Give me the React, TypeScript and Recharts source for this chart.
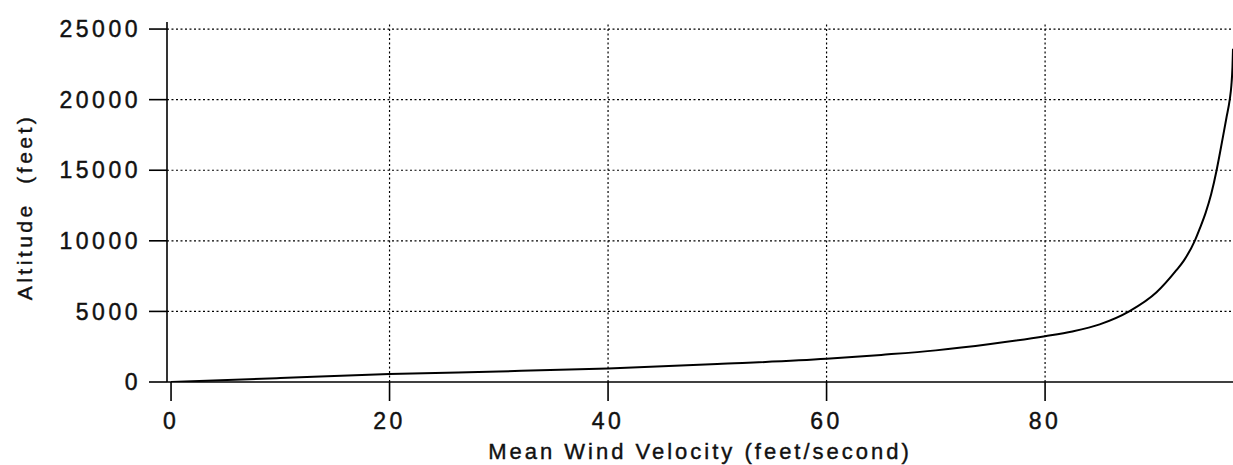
import { LineChart, Line, XAxis, YAxis, ReferenceLine } from "recharts";

// mean wind velocity (ft/s) vs altitude (ft)
const velocity = [0, 10, 20, 30, 40, 50, 60, 65, 70, 75, 80, 82.5, 85, 87.7, 90.2, 92, 92.7, 93.7, 94.2, 94.7, 95.2, 95.7, 96, 96.3, 96.6, 96.9, 97.05, 97.15, 97.2];
const altitude = [0, 280, 560, 750, 960, 1270, 1640, 1920, 2240, 2690, 3240, 3580, 4080, 5000, 6350, 7900, 8600, 10000, 10950, 12000, 13300, 15000, 16200, 17450, 18720, 20000, 21000, 22300, 23600];

const xTicks = [0, 20, 40, 60, 80];
const yTicks = [0, 5000, 10000, 15000, 20000, 25000];
const gridX = [20, 40, 60, 80];
const gridY = [5000, 10000, 15000, 20000, 25000];

const data = velocity.map((v, i) => ({ v, alt: altitude[i] }));

const font = "'Liberation Sans', Arial, Helvetica, sans-serif";
const tickStyle = { fontFamily: font, fontSize: 23, fill: "#111", stroke: "#111", strokeWidth: 0.45, letterSpacing: 3.5 };

const YTitle = () => (
  <text
    transform="translate(32, 207) rotate(-90)"
    textAnchor="middle"
    fill="#111"
    stroke="#111"
    strokeWidth={0.4}
    style={{ whiteSpace: "pre", fontFamily: font, fontSize: 21, letterSpacing: 3.5 }}
  >
    Altitude  (feet)
  </text>
);

const XTitle = () => (
  <text
    x={700}
    y={459}
    textAnchor="middle"
    fill="#111"
    stroke="#111"
    strokeWidth={0.4}
    style={{ whiteSpace: "pre", fontFamily: font, fontSize: 22, letterSpacing: 3 }}
  >
    Mean Wind Velocity (feet/second)
  </text>
);

export default function App() {
  return (
    <div style={{ position: "absolute", left: 0, top: 0, width: 1233, height: 465, background: "#fff" }}>
      <LineChart width={1233} height={465} data={data} margin={{ top: 22, right: 0, bottom: 0, left: 0 }}>
        {gridY.map((y) => (
          <ReferenceLine key={"h" + y} y={y} stroke="#000" strokeWidth={1.2} strokeDasharray="2 2.5" />
        ))}
        {gridX.map((x) => (
          <ReferenceLine key={"v" + x} x={x} stroke="#000" strokeWidth={1.2} strokeDasharray="2 2.5" />
        ))}
        <XAxis
          dataKey="v"
          type="number"
          domain={[-0.37, 97.2]}
          ticks={xTicks}
          allowDataOverflow
          height={83}
          tickSize={19}
          tickMargin={12}
          tick={tickStyle}
          axisLine={{ stroke: "#000", strokeWidth: 1.6 }}
          tickLine={{ stroke: "#000", strokeWidth: 1.6 }}
          label={<XTitle />}
        />
        <YAxis
          dataKey="alt"
          type="number"
          domain={[0, 25500]}
          ticks={yTicks}
          allowDataOverflow
          width={167}
          tickSize={18}
          tickMargin={8}
          tick={tickStyle}
          axisLine={{ stroke: "#000", strokeWidth: 1.6 }}
          tickLine={{ stroke: "#000", strokeWidth: 1.6 }}
          label={<YTitle />}
        />
        <Line
          dataKey="alt"
          type="monotone"
          stroke="#000"
          strokeWidth={2}
          dot={false}
          isAnimationActive={false}
        />
      </LineChart>
    </div>
  );
}
